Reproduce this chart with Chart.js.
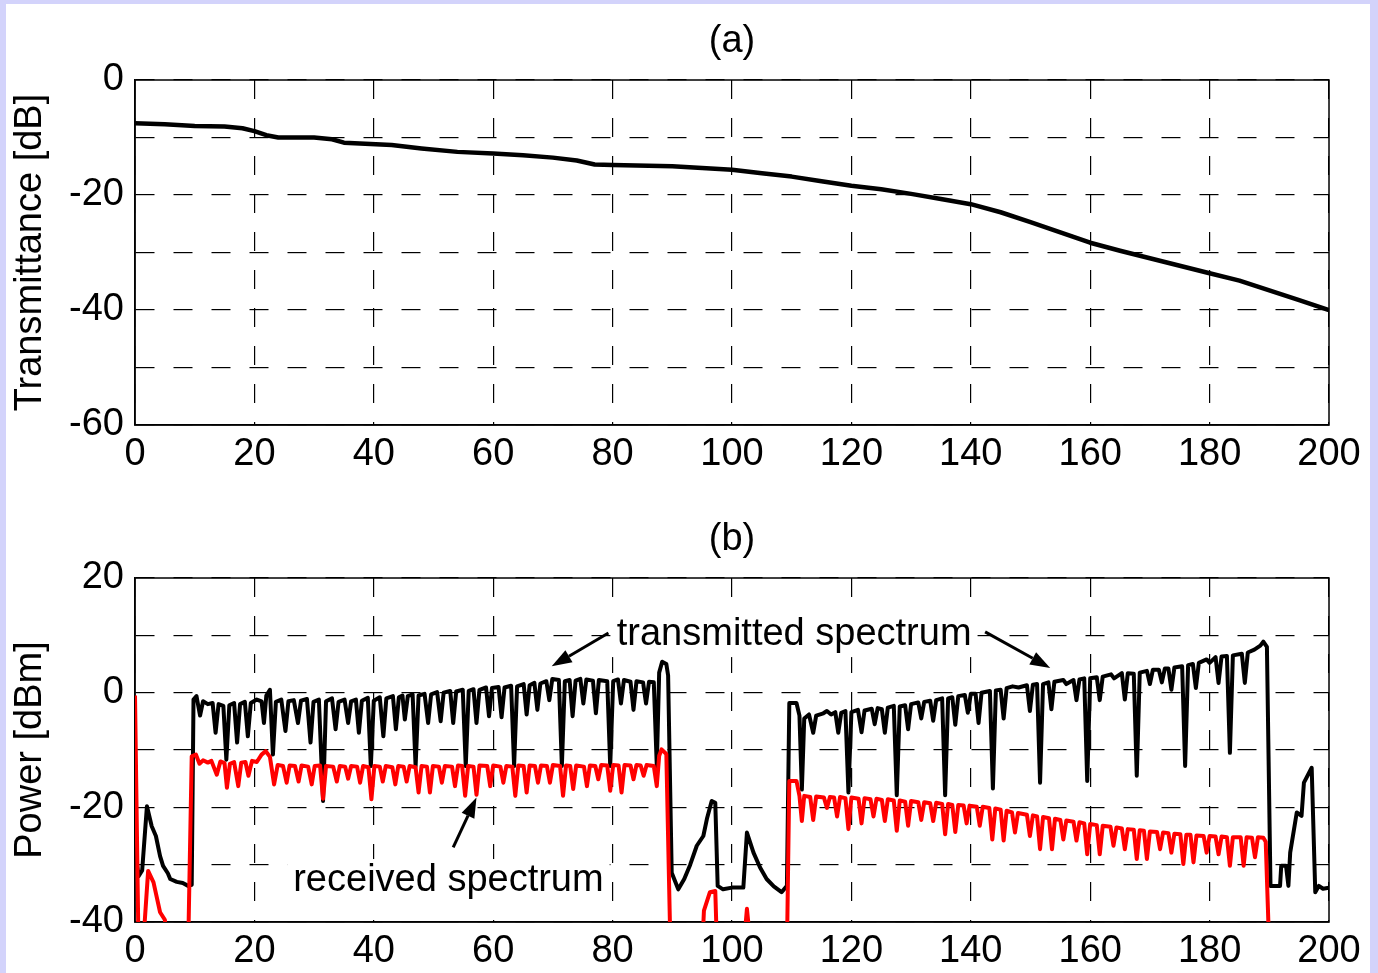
<!DOCTYPE html>
<html>
<head>
<meta charset="utf-8">
<script src="https://cdn.jsdelivr.net/npm/chart.js@4.4.0/dist/chart.umd.min.js"></script>
<style>
	html, body { margin: 0; padding: 0; background: #d3d3fb; overflow: hidden; }
	#frame { position: absolute; left: 6px; top: 4px; width: 1364px; height: 969px; background: #fff; }
	canvas { position: absolute; left: 0; }
	#chartA { top: 0; }
	#chartB { top: 490px; }
</style>
</head>
<body>
<div id="frame"></div>
<canvas id="chartA" width="1378" height="490"></canvas>
<canvas id="chartB" width="1378" height="483"></canvas>
<script>
"use strict"

// shared x axis (frequency)
const freqTicks = [0, 20, 40, 60, 80, 100, 120, 140, 160, 180, 200]

// (a) transmittance
const transX = [0, 5, 10, 15, 18, 20, 22, 24, 30, 33, 35, 43, 48, 54, 60, 65, 70, 74, 77, 80, 90, 95, 100, 105, 110, 115, 120, 125, 130, 135, 140, 145, 150, 155, 160, 165, 170, 175, 180, 185, 190, 195, 200]
const transY = [-7.5, -7.7, -8.0, -8.1, -8.4, -8.9, -9.6, -10.0, -10.0, -10.3, -10.9, -11.3, -11.9, -12.5, -12.8, -13.1, -13.5, -14.0, -14.7, -14.8, -15.0, -15.3, -15.6, -16.2, -16.8, -17.6, -18.4, -19.0, -19.8, -20.7, -21.6, -23.0, -24.7, -26.5, -28.3, -29.7, -31.0, -32.3, -33.6, -34.9, -36.6, -38.3, -40.0]
const transGrid = [0, -10, -20, -30, -40, -50, -60]
const transLabels = [0, -20, -40, -60]

// (b) spectra, [freq, power dBm]
const txSpectrum = [
	[0, -27], [0.6, -32], [1.2, -31], [2.0, -19.8], [2.8, -23.3], [3.5, -25], [4.2, -28.5], [4.7, -30.2], [5.5, -31.5], [5.9, -32.5], [7, -33], [8, -33.2], [8.9, -33.7], [9.5, -33.5],
	[9.8, -1.2], [10.3, -0.6], [10.9, -4], [11.4, -1.5], [12.2, -2], [13.0, -1.8], [13.5, -7], [14.0, -2], [14.8, -2.3], [15.3, -11.7], [15.8, -2.2], [16.6, -1.8], [17.1, -8.7], [17.6, -2],
	[18.4, -1.6], [18.9, -7.6], [19.4, -1.8], [20.4, -1.2], [21.2, -1.5], [21.6, -5.3], [22.0, -0.5], [22.6, 0.5], [23.1, -10.8], [23.6, -1.6], [24.5, -1.2], [25.2, -6.7], [25.7, -1.5],
	[26.6, -1.3], [27.3, -5.3], [27.8, -1.4], [28.8, -1.1], [29.4, -8.7], [29.9, -1.6], [30.8, -1.2], [31.5, -18.9], [32.0, -1.5], [33.0, -1.0], [33.6, -6.4], [34.1, -1.6], [35.1, -1.2],
	[35.7, -5.3], [36.2, -1.5], [37.0, -1.2], [37.5, -7], [38.0, -1.4], [39.0, -0.9], [39.5, -12.8], [40.0, -1.4], [41.0, -0.8], [41.6, -7.6], [42.1, -1], [43.2, -0.6], [43.7, -6.4],
	[44.2, -0.8], [44.8, -0.5], [45.2, -4.7], [45.7, -0.6], [46.5, -0.3], [47.0, -12.8], [47.5, -0.5], [48.5, -0.2], [49.1, -5.3], [49.6, -0.3], [50.6, 0.1], [51.2, -5], [51.7, 0],
	[52.8, 0.3], [53.3, -5.3], [53.8, 0.2], [54.9, 0.5], [55.4, -12.8], [55.9, 0.3], [56.7, 0.6], [57.2, -5.3], [57.7, 0.5], [58.8, 0.9], [59.3, -4.1], [59.8, 0.8], [60.9, 1.0],
	[61.4, -4.3], [61.9, 0.9], [63.0, 1.2], [63.5, -12.8], [64.0, 1.1], [65.1, 1.5], [65.6, -3.8], [66.1, 1.3], [66.9, 1.7], [67.4, -3], [67.9, 1.6], [68.9, 2.0], [69.4, -1.3],
	[69.9, 2.4], [71.0, 2.2], [71.5, -12.8], [72.0, 2.0], [72.8, 2.2], [73.3, -4.1], [73.8, 2.1], [74.6, 2.4], [75.1, -1.9], [75.6, 2.3], [76.7, 2.1], [77.2, -3.6], [77.7, 2.2],
	[79.1, 2.0], [79.6, -12.8], [80.1, 2.0], [80.9, 2.3], [81.4, -1.9], [81.9, 2.2], [83.0, 1.9], [83.5, -3], [84.0, 2.0], [85.1, 1.8], [85.6, -1.9], [86.1, 1.9], [86.9, 1.8],
	[87.4, -12.8], [87.8, 3.5], [88.3, 5.4], [89.0, 5.0], [89.3, 3], [89.9, -31.4], [91.0, -34.3], [92.0, -32.5], [93.0, -30], [94.1, -26.7], [95.2, -25], [95.8, -22], [96.6, -18.9],
	[97.2, -19.2], [97.6, -33.7], [98.5, -34.3], [100, -34.0], [101.9, -34.0], [102.5, -24.4], [103.6, -27.9], [104.7, -30.5], [105.8, -32.5], [107, -33.8], [108.3, -34.8], [109.2, -33.7],
	[109.6, -1.8], [110.8, -1.8], [111.3, -4], [111.7, -16.9], [112.1, -4.5], [112.9, -3.8], [113.6, -7], [114.1, -4.0], [115.3, -3.6], [115.9, -3.2], [116.6, -3.8], [117.3, -3.4],
	[117.8, -7], [118.3, -3.5], [119.0, -3.2], [119.5, -17.4], [120.0, -3.4], [121.1, -3.0], [121.7, -6.9], [122.2, -3.1], [123.4, -2.8], [123.9, -5.5], [124.4, -2.7], [125.1, -2.9],
	[125.6, -7], [126.1, -2.6], [127.1, -2.3], [127.6, -17.9], [128.1, -2.4], [129.0, -2.2], [129.5, -6.4], [130.0, -2.0], [131.2, -1.7], [131.7, -4.5], [132.2, -1.6], [133.2, -1.4],
	[133.7, -4.9], [134.2, -1.3], [135.2, -1.0], [135.7, -17.9], [136.2, -1.0], [136.9, -0.8], [137.4, -5.6], [137.9, -0.6], [139.0, -0.4], [139.5, -3.5], [140.0, -0.2], [140.8, -0.2],
	[141.3, -5.3], [141.8, 0], [143.2, 0.3], [143.7, -16.7], [144.2, 0.4], [145.0, 0.5], [145.5, -4.5], [146.0, 0.8], [147, 1.1], [148, 0.9], [149.4, 1.3], [149.9, -3.2], [150.4, 1.4],
	[151.1, 1.5], [151.6, -15.7], [152.1, 1.5], [153.0, 1.8], [153.5, -2.9], [154.0, 1.9], [155.5, 2.2], [156, 1.5], [157.2, 2.2], [157.7, -1.3], [158.2, 2.3], [159.0, 2.5],
	[159.5, -15.4], [160.0, 2.5], [161.1, 2.7], [161.6, -1.3], [162.1, 2.8], [163.5, 3.2], [164, 2.5], [165.3, 3.4], [165.8, -1.2], [166.3, 3.4], [167.3, 3.3], [167.8, -14.5],
	[168.3, 3.5], [169.5, 3.8], [170, 1.5], [170.5, 4.0], [171.5, 4.0], [172, 1.8], [172.5, 4.2], [173.1, 4.2], [173.6, 0.5], [174.1, 4.4], [175.4, 4.6], [175.9, -12.8], [176.4, 4.8],
	[177.2, 5.0], [177.7, 0.8], [178.2, 5.2], [179.5, 5.8], [180, 5.2], [181.0, 6.2], [181.5, 1.7], [182.0, 6.3], [182.9, 6.4], [183.4, -10.5], [183.9, 6.5], [185.4, 6.8], [185.9, 1.7],
	[186.4, 7.0], [187.5, 7.5], [188.5, 8.2], [189.0, 8.9], [189.6, 8.0], [190.2, -33.7], [191.8, -33.7], [192.0, -30.2], [192.8, -30.2], [193.2, -33.7], [193.5, -27.9], [194.6, -20.9],
	[195.4, -21.5], [195.8, -15.7], [197.1, -13.1], [197.7, -34.8], [198.3, -33.7], [199.0, -34.2], [200, -34.0]
]

const rxSpectrum = [
	[0, -0.5], [0.6, -45], [1.3, -45], [2.2, -31.1], [3.1, -33.1], [4.2, -38.3], [5.0, -39.6], [5.6, -45], [8.9, -45],
	[9.5, -11.1], [10.2, -10.8], [10.8, -12.4], [11.4, -11.8], [12.2, -12.2], [12.8, -11.9], [13.7, -14.3], [14.3, -12.0], [15.0, -12.3], [15.4, -16.6], [15.9, -12.4], [16.6, -12.1],
	[17.3, -16.3], [17.8, -12.2], [18.5, -12.1], [19.0, -14.5], [19.6, -11.9], [20.4, -12.1], [21.2, -10.8], [21.9, -10.2], [22.6, -11.2], [23.3, -16], [23.9, -12.6], [24.8, -12.8],
	[25.4, -15.7], [25.9, -12.7], [26.8, -12.8], [27.4, -15.5], [27.9, -12.7], [29.0, -12.9], [29.6, -16], [30.1, -12.8], [31.0, -12.7], [31.5, -18.5], [32.0, -12.8], [33.2, -12.9],
	[33.8, -15.5], [34.3, -12.8], [35.2, -12.9], [35.7, -15], [36.2, -12.8], [37.2, -12.9], [37.7, -15.7], [38.2, -12.8], [39.1, -13], [39.6, -18.6], [40.1, -12.8], [41.0, -12.9],
	[41.5, -15.5], [42.0, -12.8], [43.1, -13], [43.6, -16], [44.1, -12.8], [45.0, -12.9], [45.5, -15.5], [46.0, -12.8], [47.0, -13], [47.5, -17.4], [48.0, -12.8], [48.9, -12.9],
	[49.4, -17.4], [49.9, -12.8], [50.9, -12.9], [51.4, -15.7], [51.9, -12.8], [53.1, -12.9], [53.6, -16.3], [54.1, -12.7], [54.8, -12.8], [55.3, -18], [55.8, -12.8], [56.7, -12.9],
	[57.2, -17.8], [57.7, -12.7], [59.0, -12.8], [59.5, -16.3], [60.0, -12.7], [61.2, -12.9], [61.7, -15.7], [62.2, -12.8], [63.2, -12.9], [63.7, -18], [64.2, -12.7], [65.1, -12.8],
	[65.6, -17.4], [66.1, -12.7], [67.0, -12.8], [67.5, -15.7], [68.0, -12.7], [69.0, -12.8], [69.5, -15.7], [70.0, -12.6], [71.2, -12.8], [71.7, -18], [72.2, -12.7], [72.9, -12.8],
	[73.4, -16.8], [73.9, -12.7], [75.2, -12.9], [75.7, -16.3], [76.2, -12.7], [77.1, -12.8], [77.6, -15.1], [78.1, -12.6], [79.1, -12.7], [79.6, -17.1], [80.1, -12.6], [81.0, -12.7],
	[81.5, -17.4], [82.0, -12.6], [83.0, -12.7], [83.5, -15.1], [84.0, -12.6], [84.7, -12.7], [85.2, -14.5], [85.7, -12.6], [86.9, -12.8], [87.4, -16.3], [87.8, -11], [88.2, -9.9],
	[89.0, -10.7], [89.7, -45], [95.0, -45], [95.3, -38], [96.3, -34.8], [97.2, -34.6], [97.5, -45], [101.9, -45], [102.5, -37.7], [103.2, -45], [109.2, -45],
	[109.6, -15.4], [110.8, -15.4], [111.3, -18], [111.7, -22.4], [112.1, -18], [113.1, -18.2], [113.6, -22.2], [114.1, -18.1], [115.4, -18.3], [115.9, -20.1], [116.4, -18.2],
	[117.1, -18.3], [117.6, -21.6], [118.1, -18.2], [119.0, -18.4], [119.5, -23.8], [120.0, -18.3], [121.2, -18.5], [121.7, -22.8], [122.2, -18.4], [123.2, -18.6], [123.7, -21.6],
	[124.2, -18.5], [125.1, -18.7], [125.6, -22.4], [126.1, -18.6], [127.1, -18.8], [127.6, -24.1], [128.1, -18.8], [129.0, -19.0], [129.5, -23.2], [130.0, -18.9], [131.2, -19.1],
	[131.7, -22.2], [132.2, -19.1], [133.2, -19.3], [133.7, -22.4], [134.2, -19.2], [135.2, -19.4], [135.7, -24.7], [136.2, -19.4], [136.9, -19.6], [137.4, -24.3], [137.9, -19.6],
	[138.8, -19.7], [139.3, -22.8], [139.8, -19.7], [141.0, -19.9], [141.5, -23.2], [142.0, -19.9], [143.1, -20.1], [143.6, -25.6], [144.1, -20.2], [145.0, -20.4], [145.5, -25.8],
	[146.0, -20.6], [146.9, -20.9], [147.4, -24.4], [147.9, -21.0], [149.4, -21.3], [149.9, -25], [150.4, -21.4], [151.1, -21.6], [151.6, -27.3], [152.1, -21.7], [153.1, -21.9],
	[153.6, -27.3], [154.1, -22.0], [155.0, -22.2], [155.5, -25.6], [156.0, -22.3], [157.2, -22.5], [157.7, -25.8], [158.2, -22.6], [159.0, -22.8], [159.5, -28.2], [160.0, -22.9],
	[161.1, -23.1], [161.6, -28.2], [162.1, -23.2], [163.4, -23.4], [163.9, -26.7], [164.4, -23.5], [165.3, -23.7], [165.8, -27.3], [166.3, -23.8], [167.3, -23.9], [167.8, -29],
	[168.3, -24.0], [169.0, -24.1], [169.5, -29], [170.0, -24.2], [171.2, -24.3], [171.7, -27.3], [172.2, -24.4], [173.1, -24.5], [173.6, -27.9], [174.1, -24.6], [175.1, -24.7],
	[175.6, -29.9], [176.1, -24.8], [176.8, -24.8], [177.3, -29.6], [177.8, -24.9], [179.0, -25.0], [179.5, -27.9], [180.0, -25.0], [181.0, -25.1], [181.5, -28.2], [182.0, -25.1],
	[182.9, -25.2], [183.4, -30.2], [183.9, -25.2], [185.2, -25.2], [185.7, -30.2], [186.2, -25.2], [187.1, -25.3], [187.6, -28.7], [188.1, -25.2], [189.0, -25.3], [189.4, -26],
	[190.0, -45], [200, -45]
]
const powerGrid = [20, 10, 0, -10, -20, -30, -40]
const powerLabels = [20, 0, -20, -40]

// annotations in (b): text, left/baseline in data units, arrows tail -> tip
const noteTexts = ["transmitted spectrum", "received spectrum"]
const notePos = [[80.7, 8.3], [26.5, -34.6]]
const notePointers = [[79.3, 10.4, 69.8, 4.6], [142.4, 10.6, 153.3, 4.3], [53.3, -27, 57.2, -18.3]]

const FONT = { family: "'Liberation Sans', Arial, sans-serif", size: 38 }

function XScale(height) {
	return {
		type: 'linear',
		min: 0,
		max: 200,
		afterBuildTicks: function (scale) { scale.ticks = freqTicks.map(v => ({ value: v })) },
		afterFit: function (scale) { scale.height = height },
		ticks: { font: FONT, color: '#000', padding: 7, maxRotation: 0, autoSkip: false },
		grid: { color: '#000', lineWidth: 1.2, drawTicks: false },
		border: { color: '#000', width: 1.5, dash: [19, 19] }
	}
}

function YScale(gridValues, labelValues, title) {
	return {
		type: 'linear',
		min: Math.min(...gridValues),
		max: Math.max(...gridValues),
		afterBuildTicks: function (scale) { scale.ticks = gridValues.map(v => ({ value: v })) },
		afterFit: function (scale) { scale.width = 135 },
		ticks: {
			font: FONT, color: '#000', padding: 11, autoSkip: false,
			callback: function (v) { return labelValues.includes(v) ? String(v) : '' }
		},
		grid: { color: '#000', lineWidth: 1.2, drawTicks: false },
		border: { color: '#000', width: 1.5, dash: [19, 19] },
		title: { display: true, text: title, font: FONT, color: '#000', padding: { top: 8, bottom: 0 } }
	}
}

// box round the plot area plus the panel caption, centred over the plot
const framePlugin = {
	id: 'frame',
	beforeDatasetsDraw(chart, args, opts) {
		const { ctx, chartArea: a } = chart
		ctx.save()
		ctx.strokeStyle = '#000'
		ctx.lineWidth = 1.5
		ctx.strokeRect(a.left, a.top, a.right - a.left, a.bottom - a.top)
		ctx.font = FONT.size + 'px ' + FONT.family
		ctx.fillStyle = '#000'
		ctx.textAlign = 'center'
		ctx.textBaseline = 'middle'
		ctx.fillText(opts.caption, (a.left + a.right) / 2, opts.captionY)
		ctx.restore()
	}
}

function NoteBox(ctx, x, y, i) {
	const w = ctx.measureText(noteTexts[i]).width
	return { left: x.getPixelForValue(notePos[i][0]), base: y.getPixelForValue(notePos[i][1]), width: w }
}

const notesPlugin = {
	id: 'notes',
	beforeDatasetsDraw(chart) {
		const { ctx, scales: { x, y } } = chart
		ctx.save()
		ctx.font = FONT.size + 'px ' + FONT.family
		ctx.fillStyle = '#fff'
		noteTexts.forEach(function (t, i) {
			const b = NoteBox(ctx, x, y, i)
			ctx.fillRect(b.left - 6, b.base - 32, b.width + 12, 44)
		})
		ctx.restore()
	},
	afterDatasetsDraw(chart) {
		const { ctx, scales: { x, y } } = chart
		ctx.save()
		ctx.font = FONT.size + 'px ' + FONT.family
		ctx.fillStyle = '#000'
		ctx.textBaseline = 'alphabetic'
		noteTexts.forEach(function (t, i) {
			const b = NoteBox(ctx, x, y, i)
			ctx.fillText(t, b.left, b.base)
		})
		ctx.strokeStyle = '#000'
		ctx.lineWidth = 3
		notePointers.forEach(function (p) {
			const x0 = x.getPixelForValue(p[0]), y0 = y.getPixelForValue(p[1])
			const x1 = x.getPixelForValue(p[2]), y1 = y.getPixelForValue(p[3])
			const ang = Math.atan2(y1 - y0, x1 - x0)
			const len = 20, half = 7
			const bx = x1 - len * Math.cos(ang), by = y1 - len * Math.sin(ang)
			ctx.beginPath()
			ctx.moveTo(x0, y0)
			ctx.lineTo(bx, by)
			ctx.stroke()
			ctx.beginPath()
			ctx.moveTo(x1, y1)
			ctx.lineTo(bx + half * Math.sin(ang), by - half * Math.cos(ang))
			ctx.lineTo(bx - half * Math.sin(ang), by + half * Math.cos(ang))
			ctx.closePath()
			ctx.fill()
		})
		ctx.restore()
	}
}

const baseOptions = {
	responsive: false,
	animation: false,
	devicePixelRatio: 1,
	events: [],
	elements: { point: { radius: 0 }, line: { tension: 0, borderJoinStyle: 'round' } }
}

new Chart(document.getElementById('chartA').getContext('2d'), {
	type: 'line',
	data: {
		datasets: [{
			label: 'Transmittance',
			data: transX.map((v, i) => ({ x: v, y: transY[i] })),
			borderColor: '#000',
			borderWidth: 4.5
		}]
	},
	options: Object.assign({}, baseOptions, {
		layout: { padding: { left: 0, right: 49, top: 80, bottom: 0 } },
		scales: {
			x: XScale(65),
			y: YScale(transGrid, transLabels, 'Transmittance [dB]')
		},
		plugins: { legend: { display: false }, tooltip: { enabled: false }, frame: { caption: '(a)', captionY: 42 } }
	}),
	plugins: [framePlugin]
})

new Chart(document.getElementById('chartB').getContext('2d'), {
	type: 'line',
	data: {
		datasets: [{
			label: 'received spectrum',
			data: rxSpectrum.map(p => ({ x: p[0], y: p[1] })),
			borderColor: '#ff0000',
			borderWidth: 4
		}, {
			label: 'transmitted spectrum',
			data: txSpectrum.map(p => ({ x: p[0], y: p[1] })),
			borderColor: '#000',
			borderWidth: 4
		}]
	},
	options: Object.assign({}, baseOptions, {
		layout: { padding: { left: 0, right: 49, top: 88, bottom: 0 } },
		scales: {
			x: XScale(51),
			y: YScale(powerGrid, powerLabels, 'Power [dBm]')
		},
		plugins: { legend: { display: false }, tooltip: { enabled: false }, frame: { caption: '(b)', captionY: 50 } }
	}),
	plugins: [framePlugin, notesPlugin]
})
</script>
</body>
</html>
